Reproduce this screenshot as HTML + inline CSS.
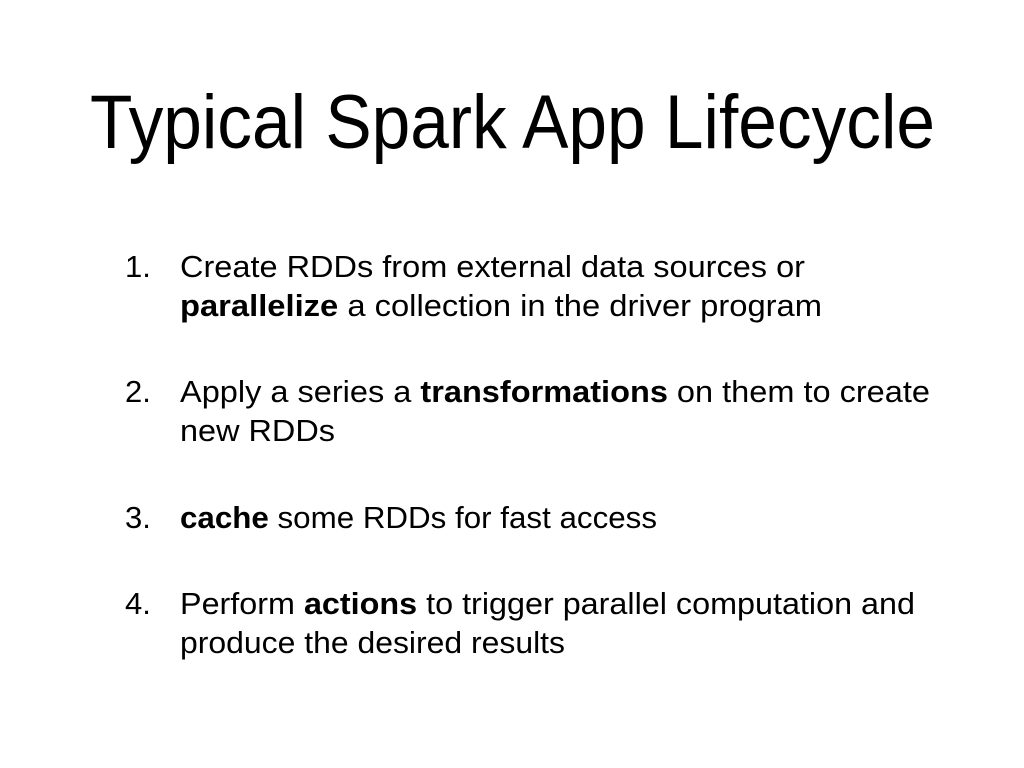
<!DOCTYPE html>
<html><head><meta charset="utf-8"><style>
html,body{margin:0;padding:0;background:#fff;}
svg{display:block;}
text{font-family:"Liberation Sans",sans-serif;fill:#000;}
</style></head><body>
<svg width="1024" height="768" viewBox="0 0 1024 768" xmlns="http://www.w3.org/2000/svg">
<rect width="1024" height="768" fill="#fff"/>
<text x="90" y="148" font-size="76" textLength="845" lengthAdjust="spacingAndGlyphs">Typical Spark App Lifecycle</text>
<g font-size="31">
<text x="125" y="277">1.</text>
<text x="180" y="277" textLength="625" lengthAdjust="spacingAndGlyphs">Create RDDs from external data sources or</text>
<text x="180" y="316" textLength="642" lengthAdjust="spacingAndGlyphs"><tspan font-weight="bold">parallelize</tspan> a collection in the driver program</text>
<text x="125" y="402">2.</text>
<text x="180" y="402" textLength="750" lengthAdjust="spacingAndGlyphs">Apply a series a <tspan font-weight="bold">transformations</tspan> on them to create</text>
<text x="180" y="441" textLength="155" lengthAdjust="spacingAndGlyphs">new RDDs</text>
<text x="125" y="528">3.</text>
<text x="180" y="528" textLength="477" lengthAdjust="spacingAndGlyphs"><tspan font-weight="bold">cache</tspan> some RDDs for fast access</text>
<text x="125" y="614">4.</text>
<text x="180" y="614" textLength="735" lengthAdjust="spacingAndGlyphs">Perform <tspan font-weight="bold">actions</tspan> to trigger parallel computation and</text>
<text x="180" y="653" textLength="385" lengthAdjust="spacingAndGlyphs">produce the desired results</text>
</g>
</svg>
</body></html>
